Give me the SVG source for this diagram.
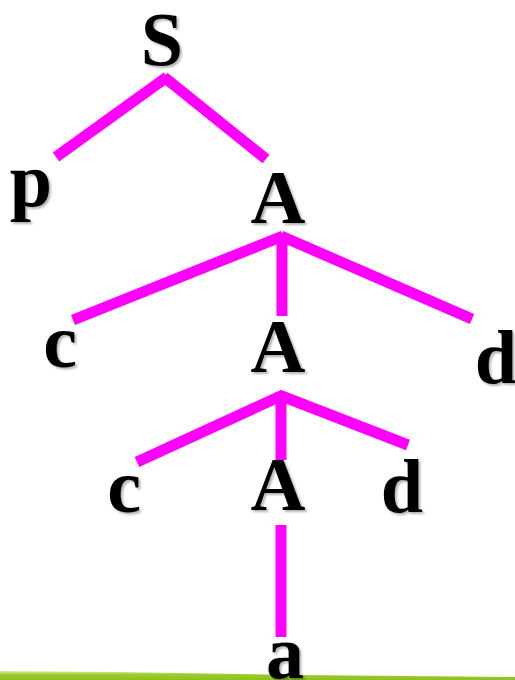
<svg xmlns="http://www.w3.org/2000/svg" width="515" height="680" viewBox="0 0 515 680">
  <defs>
    <filter id="shadow" x="-20%" y="-20%" width="140%" height="140%">
      <feDropShadow dx="2" dy="2" stdDeviation="1" flood-color="#000" flood-opacity="0.3"/>
    </filter>
    <linearGradient id="swoosh" x1="0" y1="0" x2="0" y2="1">
      <stop offset="0" stop-color="#d8ecb0"/>
      <stop offset="0.4" stop-color="#9ccb2c"/>
      <stop offset="1" stop-color="#8cc21e"/>
    </linearGradient>
  </defs>
  <style>
    .edge { stroke: #ff00ff; stroke-width: 11; fill: none; stroke-linecap: butt; }
    .sym { font-family: "Liberation Serif", "Times New Roman", serif; font-weight: bold; font-size: 76px; fill: #000; text-anchor: middle; filter: url(#shadow); }
  </style>

  <rect width="515" height="680" fill="#fff"/>

  <!-- bottom accent band -->
  <polygon points="0,671 120,672 300,675 515,677 515,680 0,680" fill="url(#swoosh)"/>

  <g id="connectors">
    <line class="edge" x1="167" y1="77" x2="56" y2="157"/>
    <line class="edge" x1="164" y1="77" x2="266" y2="159"/>
    <line class="edge" x1="283" y1="236" x2="73" y2="320"/>
    <line class="edge" x1="282" y1="236" x2="282" y2="316"/>
    <line class="edge" x1="281" y1="236" x2="472" y2="319"/>
    <line class="edge" x1="283" y1="395" x2="137" y2="462"/>
    <line class="edge" x1="281" y1="392" x2="281" y2="460"/>
    <line class="edge" x1="279" y1="395" x2="408" y2="445"/>
    <line class="edge" x1="281" y1="525" x2="281" y2="637"/>
  </g>

  <g id="S"><text class="sym" x="162" y="65">S</text></g>
  <g id="p"><text class="sym" x="31" y="206">p</text></g>
  <g id="A1"><text class="sym" x="278" y="223">A</text></g>
  <g id="c1"><text class="sym" x="60" y="367">c</text></g>
  <g id="A2"><text class="sym" x="278" y="372">A</text></g>
  <g id="d1"><text class="sym" x="496" y="383">d</text></g>
  <g id="c2"><text class="sym" x="124" y="512">c</text></g>
  <g id="A3"><text class="sym" x="278" y="510">A</text></g>
  <g id="d2"><text class="sym" x="402" y="512">d</text></g>
  <g id="a"><text class="sym" x="285" y="678">a</text></g>
</svg>
